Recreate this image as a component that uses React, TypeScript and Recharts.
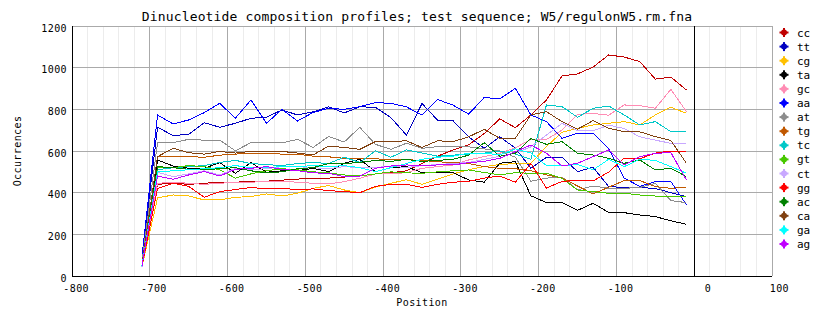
import { LineChart, Line, XAxis, YAxis, CartesianGrid, ReferenceLine } from "recharts";

const positions = [
  -710, -690, -670, -650, -630, -610, -590, -570, -550, -530, -510, -490, -470, -450, -430, -410, -390, -370,
  -350, -330, -310, -290, -270, -250, -230, -210, -190, -170, -150, -130, -110, -90, -70, -50, -30, -10,
];

const cc = [55, 440, 445, 440, 445, 450, 450, 455, 455, 460, 465, 470, 470, 475, 480, 490, 495, 505, 540, 575, 605, 630, 684, 754, 712, 773, 845, 960, 970, 1003, 1061, 1051, 1029, 945, 955, 893];
const tt = [85, 714, 674, 680, 736, 714, 733, 757, 762, 797, 773, 788, 812, 783, 812, 810, 760, 676, 828, 748, 745, 668, 613, 668, 614, 517, 570, 570, 501, 522, 429, 425, 425, 420, 400, 381];
const cg = [45, 375, 389, 384, 365, 365, 378, 381, 394, 384, 397, 421, 434, 413, 400, 426, 445, 462, 440, 465, 490, 510, 525, 535, 540, 541, 621, 690, 709, 725, 733, 741, 725, 773, 810, 781];
const ta = [60, 557, 528, 517, 517, 544, 493, 544, 498, 505, 505, 517, 501, 541, 560, 501, 520, 525, 496, 496, 496, 461, 450, 541, 549, 385, 352, 352, 315, 349, 305, 304, 293, 285, 265, 248];
const gc = [45, 445, 450, 445, 440, 445, 450, 450, 455, 455, 450, 445, 442, 453, 469, 490, 490, 496, 517, 525, 533, 557, 573, 589, 615, 656, 656, 700, 776, 780, 772, 821, 818, 805, 896, 789];
const aa = [95, 773, 730, 749, 784, 829, 757, 845, 733, 800, 744, 785, 805, 800, 813, 832, 829, 812, 772, 847, 820, 777, 857, 850, 901, 773, 741, 661, 685, 685, 610, 470, 430, 453, 453, 341];
const at = [70, 640, 640, 656, 652, 652, 601, 640, 639, 639, 656, 617, 670, 643, 714, 632, 608, 637, 613, 621, 621, 620, 610, 600, 570, 455, 470, 475, 413, 432, 421, 421, 425, 445, 362, 352];
const tg = [50, 575, 573, 573, 570, 580, 585, 590, 590, 585, 585, 575, 572, 565, 565, 562, 560, 558, 555, 548, 545, 540, 525, 517, 515, 505, 485, 470, 432, 394, 426, 458, 458, 429, 421, 426];
const tc = [55, 510, 520, 525, 530, 545, 555, 540, 535, 530, 540, 545, 540, 570, 545, 601, 570, 605, 590, 575, 580, 585, 590, 600, 585, 560, 821, 813, 762, 805, 816, 773, 725, 741, 693, 693];
const gt = [50, 520, 520, 530, 525, 510, 470, 490, 505, 515, 510, 500, 495, 485, 480, 490, 500, 495, 493, 500, 505, 509, 497, 485, 496, 493, 493, 469, 413, 405, 397, 397, 389, 384, 384, 384];
const ct = [45, 498, 477, 490, 505, 485, 517, 510, 515, 525, 525, 520, 515, 525, 520, 520, 528, 520, 530, 535, 540, 545, 560, 575, 590, 620, 676, 733, 697, 697, 724, 708, 668, 652, 637, 637];
const gg = [50, 420, 445, 430, 378, 405, 415, 425, 418, 420, 415, 418, 410, 405, 400, 430, 440, 440, 425, 440, 450, 455, 470, 480, 450, 540, 422, 454, 459, 456, 499, 566, 563, 590, 600, 600];
const ac = [55, 525, 520, 512, 510, 515, 520, 505, 495, 500, 515, 520, 540, 540, 545, 555, 550, 560, 550, 555, 560, 580, 640, 575, 590, 660, 632, 645, 589, 581, 565, 541, 557, 509, 517, 477];
const ca = [60, 573, 613, 592, 585, 598, 590, 598, 598, 598, 590, 581, 624, 617, 608, 645, 645, 649, 617, 649, 645, 668, 704, 661, 661, 773, 789, 741, 705, 746, 709, 693, 692, 669, 650, 541];
const ga = [50, 500, 505, 510, 515, 520, 530, 520, 520, 525, 525, 530, 525, 530, 520, 501, 520, 540, 560, 570, 575, 590, 590, 581, 610, 590, 530, 530, 535, 510, 560, 525, 560, 555, 525, 493];
const ag = [50, 480, 464, 485, 501, 480, 512, 517, 525, 512, 506, 495, 493, 477, 480, 517, 528, 533, 530, 533, 533, 544, 550, 565, 597, 629, 589, 528, 541, 573, 605, 533, 573, 589, 592, 461];

const xTicks = [-800, -700, -600, -500, -400, -300, -200, -100, 0, 100];
const yTicks = [0, 200, 400, 600, 800, 1000, 1200];

const series = [
  { key: "cc", values: cc, color: "#c00000" },
  { key: "tt", values: tt, color: "#0000c0" },
  { key: "cg", values: cg, color: "#ffc000" },
  { key: "ta", values: ta, color: "#000000" },
  { key: "gc", values: gc, color: "#ff8cb4" },
  { key: "aa", values: aa, color: "#0000ff" },
  { key: "at", values: at, color: "#8c8c8c" },
  { key: "tg", values: tg, color: "#c05800" },
  { key: "tc", values: tc, color: "#00c8c8" },
  { key: "gt", values: gt, color: "#48c800" },
  { key: "ct", values: ct, color: "#c8a8ff" },
  { key: "gg", values: gg, color: "#ff0000" },
  { key: "ac", values: ac, color: "#008000" },
  { key: "ca", values: ca, color: "#804010" },
  { key: "ga", values: ga, color: "#00ffff" },
  { key: "ag", values: ag, color: "#c000ff" },
];

const data = positions.map((pos, i) => {
  const row: Record<string, number> = { pos };
  series.forEach((s) => (row[s.key] = s.values[i]));
  return row;
});

const W = 834;
const H = 328;
const PLOT = { left: 72, top: 26, right: 772, bottom: 276 };
const FONT = "'DejaVu Sans Mono', monospace";

// light vertical lines every 20 between the major ones
const minorX: number[] = [];
for (let v = -780; v < 100; v += 20) if (v % 100 !== 0) minorX.push(v);
const minorPx = minorX.map((v) => PLOT.left + ((v + 800) / 900) * (PLOT.right - PLOT.left));

function XTick({ x, payload }: any) {
  return (
    <text x={x + 17} y={292} textAnchor="end" fontFamily={FONT} fontSize={10} letterSpacing={0.4} fill="#000">
      {payload.value}
    </text>
  );
}

function YTick({ y, payload }: any) {
  return (
    <text x={67} y={y + 5.5} textAnchor="end" fontFamily={FONT} fontSize={10} letterSpacing={0.4} fill="#000">
      {payload.value}
    </text>
  );
}

function Marker({ cx, cy, color }: { cx: number; cy: number; color: string }) {
  return (
    <g fill={color}>
      <circle cx={cx} cy={cy} r={3} />
      <rect x={cx - 1} y={cy - 4.5} width={2} height={9} />
      <rect x={cx - 4.5} y={cy - 1} width={9} height={2} />
    </g>
  );
}

export default function App() {
  return (
    <div style={{ position: "absolute", left: 0, top: 0, width: W, height: H, background: "#fff" }}>
      <LineChart
        width={W}
        height={H}
        data={data}
        margin={{ top: PLOT.top, right: W - PLOT.right, bottom: 22, left: 12 }}
        style={{ shapeRendering: "crispEdges" }}
      >
        <CartesianGrid stroke="#ececec" horizontal={false} verticalPoints={minorPx} />
        <CartesianGrid stroke="#aaaaaa" />
        <XAxis
          dataKey="pos"
          type="number"
          domain={[-800, 100]}
          ticks={xTicks}
          height={30}
          axisLine={{ stroke: "#000" }}
          tickLine={false}
          tick={<XTick />}
          interval={0}
        />
        <YAxis
          type="number"
          domain={[0, 1200]}
          ticks={yTicks}
          width={60}
          axisLine={{ stroke: "#000" }}
          tickLine={false}
          tick={<YTick />}
          interval={0}
        />
        <ReferenceLine x={0} stroke="#000" />
        {series.map((s) => (
          <Line
            key={s.key}
            dataKey={s.key}
            stroke={s.color}
            strokeWidth={1}
            dot={false}
            type="linear"
            isAnimationActive={false}
          />
        ))}
      </LineChart>
      <svg width={W} height={H} style={{ position: "absolute", left: 0, top: 0, pointerEvents: "none" }}>
        <text x={417} y={21} textAnchor="middle" fontFamily={FONT} fontSize={13} letterSpacing={0.15} fill="#000">
          Dinucleotide composition profiles; test sequence; W5/regulonW5.rm.fna
        </text>
        <text x={422} y={306} textAnchor="middle" fontFamily={FONT} fontSize={10} letterSpacing={0.4} fill="#000">
          Position
        </text>
        <text
          x={21}
          y={151}
          textAnchor="middle"
          fontFamily={FONT}
          fontSize={10}
          letterSpacing={0.4}
          fill="#000"
          transform="rotate(-90 21 151)"
        >
          Occurrences
        </text>
        {series.map((s, i) => (
          <g key={s.key}>
            <Marker cx={784} cy={32.5 + i * 14.1} color={s.color} />
            <text x={797} y={36.5 + i * 14.1} fontFamily={FONT} fontSize={11} fill="#000">
              {s.key}
            </text>
          </g>
        ))}
      </svg>
    </div>
  );
}
